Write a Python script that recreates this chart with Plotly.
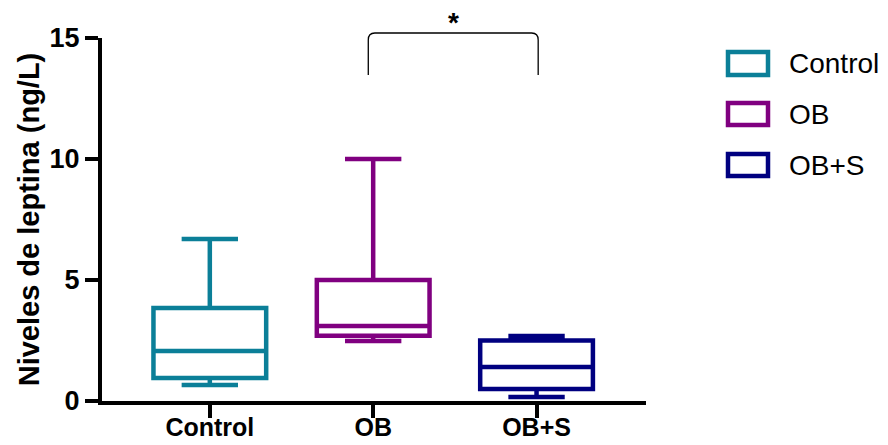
import plotly.graph_objects as go

# ---- data ----
groups = ["Control", "OB", "OB+S"]
lower_whisker = [0.66, 2.48, 0.17]
q1_vals = [0.95, 2.70, 0.50]
median_vals = [2.07, 3.10, 1.41]
q3_vals = [3.84, 5.00, 2.50]
upper_whisker = [6.69, 10.0, 2.69]
colors = ["#0b7f98", "#800080", "#000080"]
y_ticks = [0, 5, 10, 15]

W, H = 888, 445
L, R, T, B = 102, 242, 38, 44
pw, ph = W - L - R, H - T - B

def px_x(x):
    return (x - L) / pw

def px_y(y):
    return (H - B - y) / ph

FONT = "Arial, Liberation Sans, Helvetica, sans-serif"

fig = go.Figure()
for g, lo, a, m, b, hi, c in zip(groups, lower_whisker, q1_vals, median_vals, q3_vals, upper_whisker, colors):
    fig.add_trace(go.Box(
        name=g, x=[g], q1=[a], median=[m], q3=[b],
        lowerfence=[lo], upperfence=[hi],
        boxpoints=False, width=0.69, whiskerwidth=0.5,
        line=dict(color=c, width=4.5), fillcolor="rgba(255,255,255,0)",
        showlegend=False, hoverinfo="skip",
    ))

# significance bracket between OB and OB+S
xb0, xb1 = 0.97, 2.01
ytop, ybot = px_y(33), px_y(75)
yc = px_y(40)
fig.add_shape(type="path", xref="x", yref="paper",
              path=f"M {xb0},{ybot} L {xb0},{yc} Q {xb0},{ytop} {xb0+0.04},{ytop} "
                   f"L {xb1-0.04},{ytop} Q {xb1},{ytop} {xb1},{yc} L {xb1},{ybot}",
              line=dict(color="black", width=1.3))
fig.add_annotation(x=(xb0 + xb1) / 2, y=px_y(23), xref="x", yref="paper",
                   text="<b>*</b>", showarrow=False, yanchor="middle",
                   font=dict(size=28, color="black", family=FONT))

# custom legend
leg_rows = [(50, 77), (101, 127), (152, 178)]
for (y0, y1), g, c in zip(leg_rows, groups, colors):
    fig.add_shape(type="rect", xref="paper", yref="paper",
                  x0=px_x(728), x1=px_x(768), y0=px_y(y1 - 2), y1=px_y(y0 + 2),
                  line=dict(color=c, width=4.5), fillcolor="white")
    fig.add_annotation(x=px_x(787), y=px_y((y0 + y1) / 2), xref="paper", yref="paper",
                       text=g, showarrow=False, xanchor="left", yanchor="middle",
                       font=dict(size=28, color="black", family=FONT))

fig.update_layout(
    width=W, height=H, margin=dict(l=L, r=R, t=T, b=B),
    plot_bgcolor="white", paper_bgcolor="white",
    boxmode="overlay", showlegend=False,
    font=dict(family=FONT, color="black"),
)
fig.update_xaxes(
    range=[-0.66, 2.67], showgrid=False, zeroline=False, automargin=False,
    showline=True, linecolor="black", linewidth=4,
    ticks="outside", ticklen=13, tickwidth=4, tickcolor="black",
    tickvals=groups, ticktext=[f"<b>{g}</b>" for g in groups],
    tickfont=dict(size=25, family=FONT, color="black"),
    ticklabelstandoff=-12,
)
fig.update_yaxes(
    range=[0, 15], showgrid=False, zeroline=False, automargin=False,
    showline=True, linecolor="black", linewidth=4,
    ticks="outside", ticklen=13, tickwidth=4, tickcolor="black",
    tickvals=y_ticks, ticktext=[f"<b>{v}</b>" for v in y_ticks],
    tickfont=dict(size=27, family=FONT, color="black"),
    title=dict(text="<b>Niveles de leptina (ng/L)</b>",
               font=dict(size=29, family=FONT, color="black"), standoff=2),
)

fig.write_html("out.html")
